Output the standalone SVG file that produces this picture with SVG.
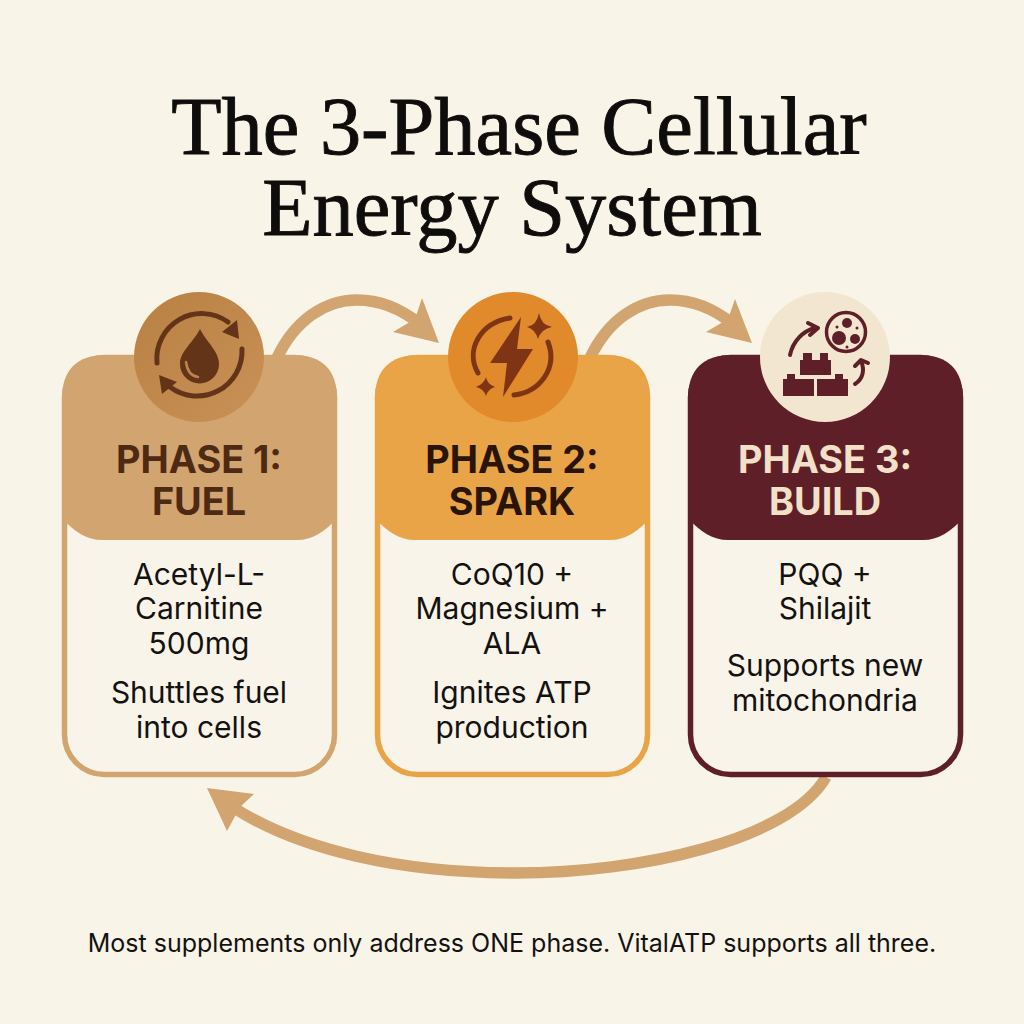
<svg xmlns="http://www.w3.org/2000/svg" width="1024" height="1024" viewBox="0 0 1024 1024">
<defs>
<style>
.title{font-family:"Liberation Serif","DejaVu Serif",serif;font-size:82.400px;fill:#0f0d0c;stroke:#0f0d0c;stroke-width:.9px;text-anchor:middle}
.head{font-family:"Inter","Liberation Sans",sans-serif;font-size:37.800px;font-weight:700;text-anchor:middle}
.body{font-family:"Inter","Liberation Sans",sans-serif;font-size:30px;fill:#141210;text-anchor:middle}
.foot{font-family:"Inter","Liberation Sans",sans-serif;font-size:25px;fill:#141210;text-anchor:middle}
.flow{fill:none;stroke:#d2a470;stroke-width:11.500}
.ic1{fill:none;stroke:#643418;stroke-width:5;stroke-linecap:round}
.ic2{fill:none;stroke:#7e3415;stroke-width:5;stroke-linecap:round}
.ic3{fill:none;stroke:#5e1f29;stroke-width:4;stroke-linecap:round;stroke-linejoin:round}
</style>
<linearGradient id="g1" x1="0" y1="0" x2="1" y2="1"><stop offset="0" stop-color="#b98044"/><stop offset="1" stop-color="#c99155"/></linearGradient>
</defs>
<rect width="1024" height="1024" fill="#f9f4e8"/>
<text class="title" x="519" y="154">The 3-Phase Cellular</text>
<text class="title" x="512" y="235">Energy System</text>
<g id="connectors">
<path class="flow" d="M277 358C295 320 325 300 357 300C380 300 400 308 420 324"/>
<polygon fill="#d2a470" points="439,343 393,332 415,319 422,298"/>
<path class="flow" d="M590 358C608 320 638 300 670 300C693 300 713 308 733 324"/>
<polygon fill="#d2a470" points="752,343 706,332 728,319 735,299"/>
<path class="flow" d="M826 777C790 840 640 873 516 873C400 873 300 850 234 808"/>
<polygon fill="#d2a470" points="207,788 254,794 240,807 227,831"/>
</g>
<g id="phase1">
<rect x="64.500" y="357.500" width="270" height="417" rx="40" fill="#f9f4e9" stroke="#d2a470" stroke-width="5.500"/>
<path d="M62 399Q62 355 106 355H293Q337 355 337 399V518C325 532 312 540 297 540H102C87 540 74 532 62 518Z" fill="#d2a470"/>
<circle cx="199" cy="357" r="65" fill="url(#g1)"/>
<path class="ic1" d="M157 363A45 45 0 0 1 228 322"/>
<polygon fill="#643418" points="237,320 239,339 222,332"/>
<path class="ic1" d="M242 349A45 45 0 0 1 170 387"/>
<polygon fill="#643418" points="159,375 162,394 177,382"/>
<path d="M200 329C207 343 219 351 219 364A19.500 19.500 0 0 1 180 364C180 351 193 343 200 329Z" fill="#643418"/>
<path d="M186 362C187 370 191 376 198 377" fill="none" stroke="#bd8549" stroke-width="2.500" stroke-linecap="round"/>
<text class="head" fill="#4e2a14" x="199" y="473">PHASE 1:</text>
<text class="head" fill="#4e2a14" x="199" y="515">FUEL</text>
<text class="body" x="199" y="585">Acetyl-L-</text>
<text class="body" x="199" y="619">Carnitine</text>
<text class="body" x="199" y="654">500mg</text>
<text class="body" x="199" y="703">Shuttles fuel</text>
<text class="body" x="199" y="738">into cells</text>
</g>
<g id="phase2">
<rect x="377.500" y="357.500" width="270" height="417" rx="40" fill="#f9f4e9" stroke="#e9a447" stroke-width="5.500"/>
<path d="M375 399Q375 355 419 355H606Q650 355 650 399V518C638 532 625 540 610 540H415C400 540 387 532 375 518Z" fill="#e9a447"/>
<circle cx="513" cy="357" r="65" fill="#e08a2c"/>
<path class="ic2" d="M478 373C465 350 480 323 510 318"/>
<path class="ic2" d="M548 342C558 368 540 392 514 395"/>
<polygon fill="#7e3415" points="521,317 490,363 507,363 503,397 533,349 517,349"/>
<path fill="#7e3415" d="M539 313Q541 325 552 327Q541 329 538 339Q535 329 527 327Q537 325 539 313Z"/>
<path fill="#7e3415" d="M486 377Q487 384 495 387Q488 389 486 396Q484 389 476 387Q484 384 486 377Z"/>
<text class="head" fill="#2a1408" x="512" y="473">PHASE 2:</text>
<text class="head" fill="#2a1408" x="512" y="515">SPARK</text>
<text class="body" x="512" y="585">CoQ10 +</text>
<text class="body" x="512" y="619">Magnesium +</text>
<text class="body" x="512" y="654">ALA</text>
<text class="body" x="512" y="703">Ignites ATP</text>
<text class="body" x="512" y="738">production</text>
</g>
<g id="phase3">
<rect x="690.500" y="357.500" width="270" height="417" rx="40" fill="#f9f4e9" stroke="#5e1f29" stroke-width="5.500"/>
<path d="M688 399Q688 355 732 355H919Q963 355 963 399V518C951 532 938 540 923 540H728C713 540 700 532 688 518Z" fill="#5e1f29"/>
<circle cx="825" cy="357" r="65" fill="#f2e6d0"/>
<path fill="#5e1f29" d="M783 396V379H787V374H795V379H814V396ZM817 396V379H835V374H843V379H848V396ZM800 375V360H803V353H812V360H820V353H828V360H831V375Z"/>
<path class="ic3" d="M790 355C793 341 803 331 815 328M808 323L818 328L810 335"/>
<path class="ic3" d="M855 384C863 379 865 370 861 361M855 366L861 360L868 363"/>
<circle cx="846" cy="332" r="19.500" fill="none" stroke="#5e1f29" stroke-width="3.500"/>
<circle cx="839" cy="338" r="7" fill="#5e1f29"/>
<circle cx="847" cy="323" r="5" fill="#5e1f29"/>
<circle cx="855" cy="339" r="5" fill="#5e1f29"/>
<circle cx="837" cy="327" r="1.500" fill="#5e1f29"/>
<circle cx="857" cy="328" r="1.500" fill="#5e1f29"/>
<circle cx="847" cy="347" r="1.500" fill="#5e1f29"/>
<text class="head" fill="#f2e0c8" x="825" y="473">PHASE 3:</text>
<text class="head" fill="#f2e0c8" x="825" y="515">BUILD</text>
<text class="body" x="825" y="585">PQQ +</text>
<text class="body" x="825" y="619">Shilajit</text>
<text class="body" x="825" y="676">Supports new</text>
<text class="body" x="825" y="711">mitochondria</text>
</g>
<text class="foot" x="512" y="952">Most supplements only address ONE phase. VitalATP supports all three.</text>
</svg>
